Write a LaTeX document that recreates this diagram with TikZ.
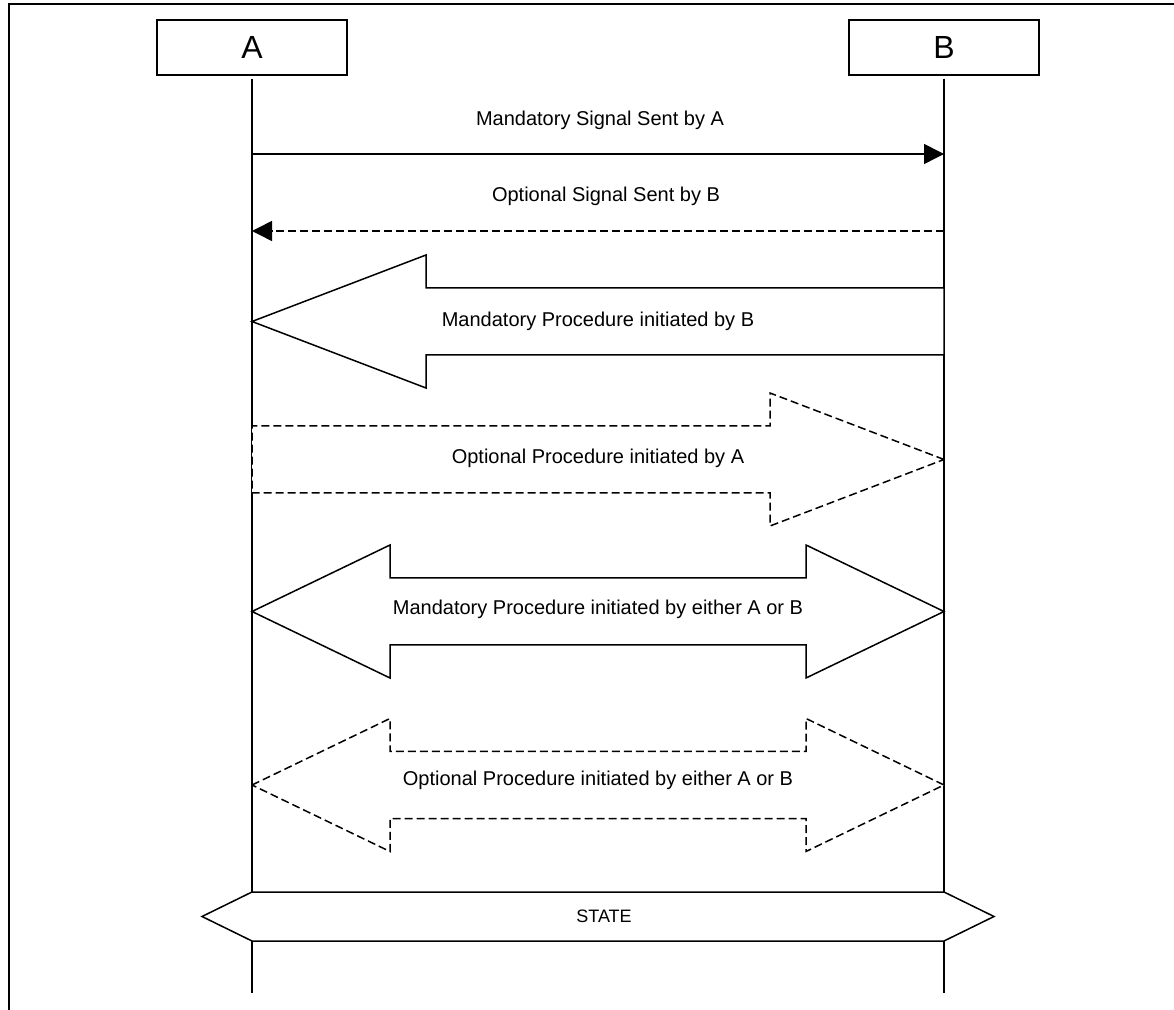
\documentclass[tikz,border=0pt]{standalone}
\usepackage{fontspec}
\setmainfont{Liberation Sans}
\usetikzlibrary{arrows.meta, positioning, calc}

\begin{document}
\begin{tikzpicture}[x=0.5pt, y=-0.5pt, every node/.style={align=center}, >={Triangle[length=10pt,width=10pt]}, line width=0.75pt]
        \def\headlen{174}
        \def\dheadlen{138}
        \def\headhalf{66.5}
        \def\shafthalf{33.5}
        \tikzset{
            entity/.style={draw, minimum width=95pt, minimum height=27.5pt, inner sep=0pt, font=\fontsize{16}{18}\selectfont},
            lbl/.style={font=\fontsize{10}{12}\selectfont, inner sep=0pt},
            optional/.style={dash pattern=on 4pt off 2pt},
        }
        \useasboundingbox (0,0) rectangle (1174,1010);
        \draw[line width=1pt] (9,1010) -- (9,4) -- (1174,4);
        % entities and lifelines
        \node[entity] (A) at (252,47.5) {A};
        \node[entity] (B) at (944,47.5) {B};
        \coordinate (Aend) at (252,993);
        \coordinate (Bend) at (944,993);
        \draw ([yshift=-1.5pt]A.south) -- (Aend);
        \draw ([yshift=-1.5pt]B.south) -- (Bend);
        % signals
        \coordinate (a1) at (252,154);
        \coordinate (b1) at (944,154);
        \coordinate (a2) at (252,231);
        \coordinate (b2) at (944,231);
        \node[lbl] (sig1) at (600,120) {Mandatory Signal Sent by A};
        \draw[->] (a1) -- (b1);
        \node[lbl] (sig2) at (606,196) {Optional Signal Sent by B};
        \draw[->, optional] (b2) -- (a2);
        % procedures
        \coordinate (a3) at (252,321.5);
        \coordinate (b3) at (944,321.5);
        \draw[fill=white] (a3) -- ++(\headlen,-\headhalf) |- ($(b3)+(0,-\shafthalf)$)
            -- ($(b3)+(0,\shafthalf)$) -| ($(a3)+(\headlen,\headhalf)$) -- cycle;
        \node[lbl] (proc1) at (598,321) {Mandatory Procedure initiated by B};
        \coordinate (a4) at (252,459.5);
        \coordinate (b4) at (944,459.5);
        \draw[fill=white, optional] (b4) -- ++(-\headlen,-\headhalf) |- ($(a4)+(0,-\shafthalf)$)
            -- ($(a4)+(0,\shafthalf)$) -| ($(b4)+(-\headlen,\headhalf)$) -- cycle;
        \node[lbl] (proc2) at (598,458) {Optional Procedure initiated by A};
        \coordinate (a5) at (252,611.5);
        \coordinate (b5) at (944,611.5);
        \draw[fill=white] (a5) -- ++(\dheadlen,-\headhalf) -- ++(0,\headhalf-\shafthalf)
            -| ($(b5)+(-\dheadlen,-\headhalf)$) -- (b5) -- ++(-\dheadlen,\headhalf)
            -- ++(0,\shafthalf-\headhalf) -| ($(a5)+(\dheadlen,\headhalf)$) -- cycle;
        \node[lbl] (proc3) at (598,609) {Mandatory Procedure initiated by either A or B};
        \coordinate (a6) at (252,785);
        \coordinate (b6) at (944,785);
        \draw[fill=white, optional] (a6) -- ++(\dheadlen,-\headhalf) -- ++(0,\headhalf-\shafthalf)
            -| ($(b6)+(-\dheadlen,-\headhalf)$) -- (b6) -- ++(-\dheadlen,\headhalf)
            -- ++(0,\shafthalf-\headhalf) -| ($(a6)+(\dheadlen,\headhalf)$) -- cycle;
        \node[lbl] (proc4) at (598,780) {Optional Procedure initiated by either A or B};
        % state
        \coordinate (a7) at (252,916.5);
        \coordinate (b7) at (944,916.5);
        \draw[fill=white] ($(a7)+(-50,0)$) -- ++(50,-24.5) -- ($(b7)+(0,-24.5)$) -- ++(50,24.5)
            -- ++(-50,24.5) -- ($(a7)+(0,24.5)$) -- cycle;
        \node[lbl, font=\fontsize{9}{11}\selectfont] (state) at (604,916.5) {STATE};
    \end{tikzpicture}
\end{document}
